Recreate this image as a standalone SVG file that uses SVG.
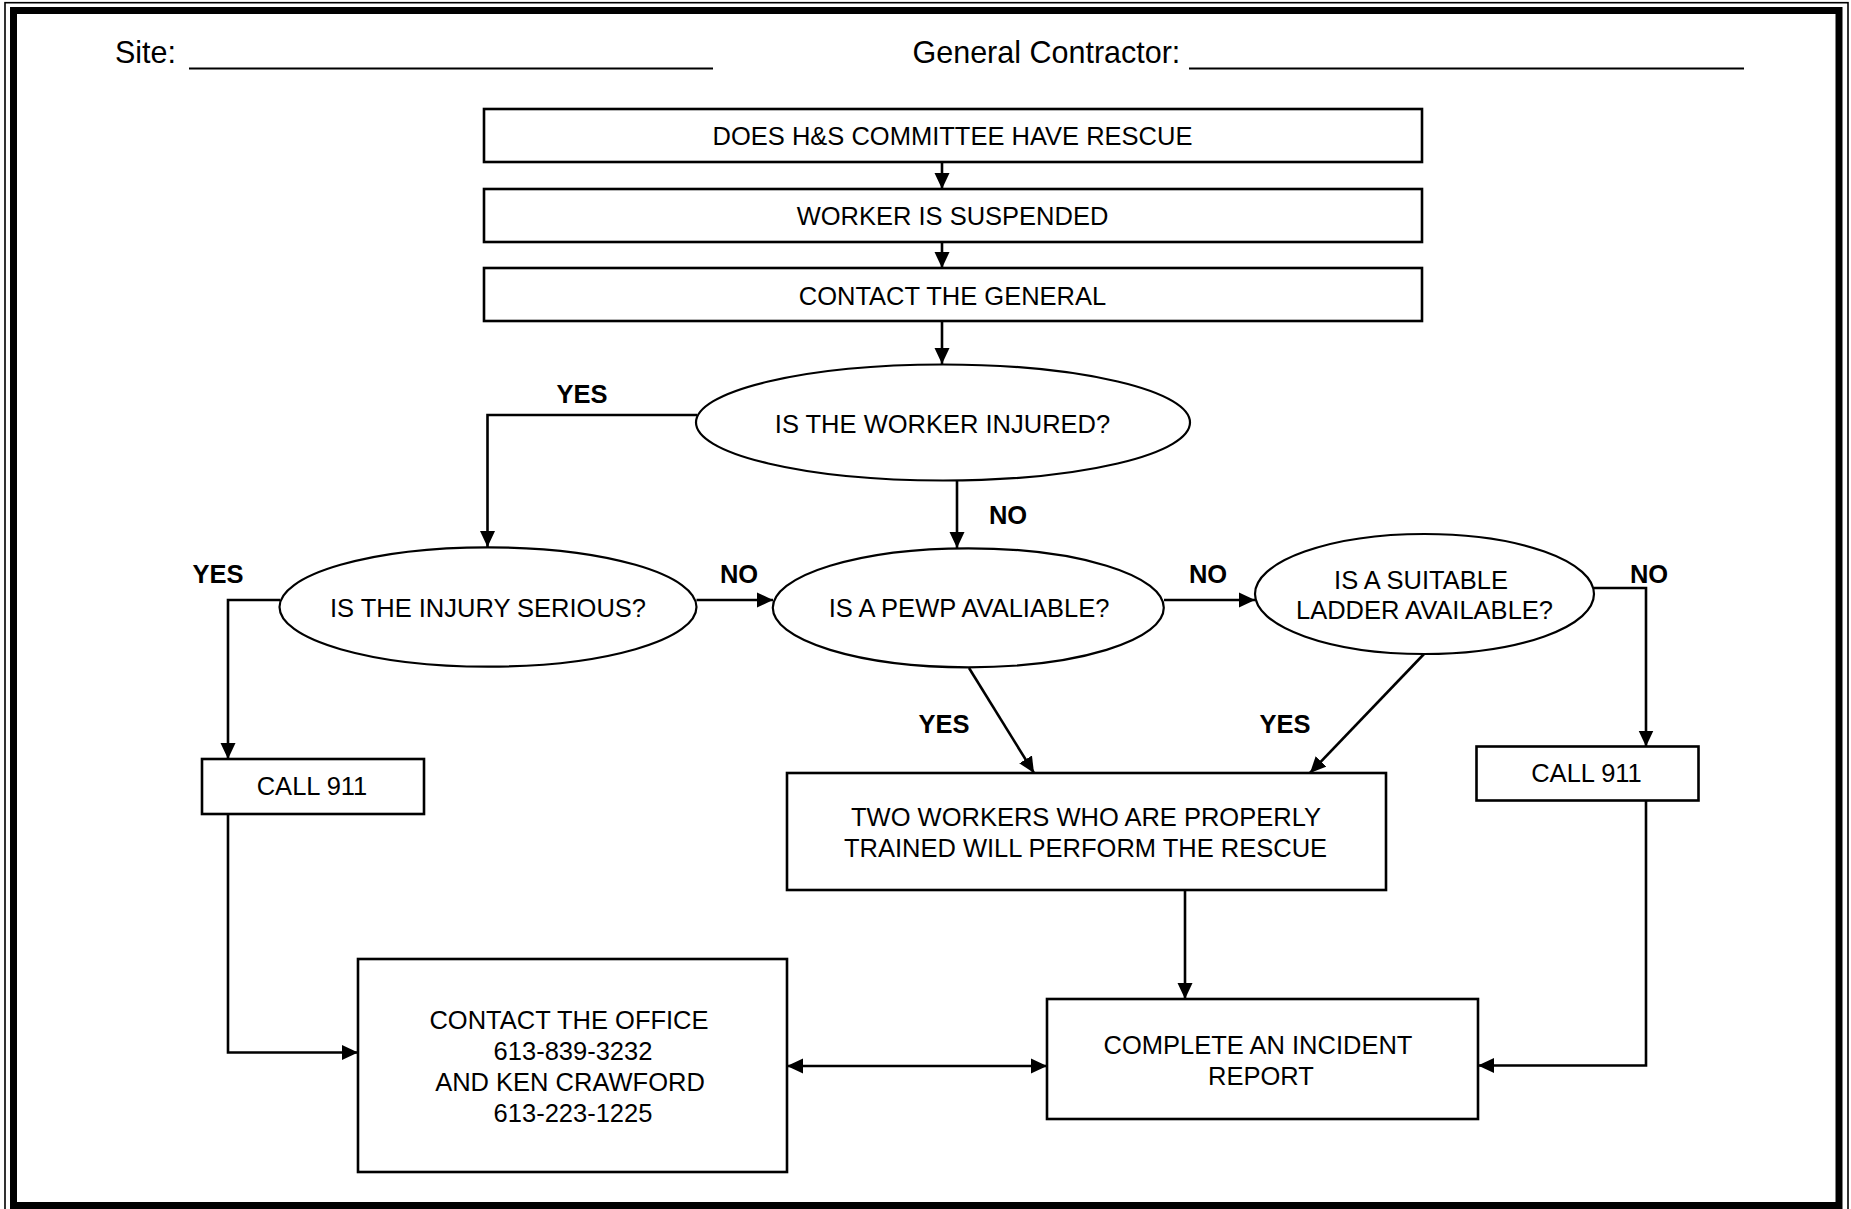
<svg xmlns="http://www.w3.org/2000/svg" width="1851" height="1209" viewBox="0 0 1851 1209">
<style>
.box{fill:#fff;stroke:#000;stroke-width:2.6}
.ell{fill:#fff;stroke:#000;stroke-width:2.2}
.t{font-family:"Liberation Sans",Arial,sans-serif;font-size:25.5px;fill:#000;text-anchor:middle}
.lbl{font-family:"Liberation Sans",Arial,sans-serif;font-size:25.5px;font-weight:bold;fill:#000;text-anchor:middle}
.hdr{font-family:"Liberation Sans",Arial,sans-serif;font-size:30.5px;fill:#000}
.c{fill:none;stroke:#000;stroke-width:2.6}
.a{marker-end:url(#ah)}
</style>
<defs>
<marker id="ah" markerUnits="userSpaceOnUse" markerWidth="17" markerHeight="16" refX="16" refY="7.5" orient="auto-start-reverse" viewBox="0 0 17 15">
<path d="M0,0 L16,7.5 L0,15 z" fill="#000"/>
</marker>
</defs>
<rect width="1851" height="1209" fill="#fff"/>
<g id="frame">
<rect x="5" y="2.7" width="1843" height="1212" fill="none" stroke="#000" stroke-width="1.6"/>
<rect x="13.5" y="10.5" width="1825.5" height="1195" fill="none" stroke="#000" stroke-width="7"/>
</g>
<g id="header">
<text class="hdr" x="115" y="62.5">Site:</text>
<line x1="189" y1="68.5" x2="713" y2="68.5" stroke="#000" stroke-width="2"/>
<text class="hdr" x="912.5" y="62.5">General Contractor:</text>
<line x1="1189" y1="68.5" x2="1744" y2="68.5" stroke="#000" stroke-width="2"/>
</g>
<g id="connectors">
<line class="c a" x1="942" y1="162" x2="942" y2="189"/>
<line class="c a" x1="942" y1="242" x2="942" y2="268"/>
<line class="c a" x1="942" y1="321" x2="942" y2="364"/>
<polyline class="c a" points="697,415 487.5,415 487.5,547"/>
<line class="c a" x1="957" y1="481" x2="957" y2="548"/>
<polyline class="c a" points="280,600 228,600 228,759"/>
<line class="c a" x1="696.5" y1="600" x2="773" y2="600"/>
<line class="c a" x1="1164" y1="600" x2="1255" y2="600"/>
<polyline class="c a" points="1594,588 1646,588 1646,746.5"/>
<line class="c a" x1="969" y1="668" x2="1034" y2="773"/>
<line class="c a" x1="1424" y1="654" x2="1310" y2="773"/>
<line class="c a" x1="1185" y1="890" x2="1185" y2="999"/>
<polyline class="c a" points="228,814 228,1052.5 358,1052.5"/>
<polyline class="c a" points="1646,800.5 1646,1065.5 1478,1065.5"/>
<line class="c a" x1="787" y1="1066" x2="1047" y2="1066" style="marker-start:url(#ah)"/>
<text class="lbl" x="582" y="403">YES</text>
<text class="lbl" x="1008" y="524">NO</text>
<text class="lbl" x="218" y="583">YES</text>
<text class="lbl" x="739" y="583">NO</text>
<text class="lbl" x="1208" y="583">NO</text>
<text class="lbl" x="1649" y="583">NO</text>
<text class="lbl" x="944" y="733">YES</text>
<text class="lbl" x="1285" y="733">YES</text>
</g>
<g id="n1"><rect class="box" x="484" y="109" width="938" height="53"/><text class="t" x="952.5" y="144.5">DOES H&amp;S COMMITTEE HAVE RESCUE</text></g>
<g id="n2"><rect class="box" x="484" y="189" width="938" height="53"/><text class="t" x="952.5" y="224.5">WORKER IS SUSPENDED</text></g>
<g id="n3"><rect class="box" x="484" y="268" width="938" height="53"/><text class="t" x="952.5" y="304.5">CONTACT THE GENERAL</text></g>
<g id="q1"><ellipse class="ell" cx="943" cy="422.5" rx="247" ry="58"/><text class="t" x="942.5" y="433">IS THE WORKER INJURED?</text></g>
<g id="q2"><ellipse class="ell" cx="488" cy="607" rx="208.5" ry="59.7"/><text class="t" x="488" y="617">IS THE INJURY SERIOUS?</text></g>
<g id="q3"><ellipse class="ell" cx="968.3" cy="607.8" rx="195.5" ry="59.5"/><text class="t" x="969" y="617">IS A PEWP AVALIABLE?</text></g>
<g id="q4"><ellipse class="ell" cx="1424.5" cy="594" rx="169.5" ry="60"/><text class="t" x="1421" y="588.5">IS A SUITABLE</text><text class="t" x="1424.5" y="619">LADDER AVAILABLE?</text></g>
<g id="call1"><rect class="box" x="202" y="759" width="222" height="55"/><text class="t" x="312" y="795">CALL 911</text></g>
<g id="call2"><rect class="box" x="1476.5" y="746.5" width="222" height="54"/><text class="t" x="1586.5" y="782">CALL 911</text></g>
<g id="rescue"><rect class="box" x="787" y="773" width="599" height="117"/><text class="t" x="1086" y="825.5">TWO WORKERS WHO ARE PROPERLY</text><text class="t" x="1085.5" y="857">TRAINED WILL PERFORM THE RESCUE</text></g>
<g id="office"><rect class="box" x="358" y="959" width="429" height="213"/><text class="t" x="569" y="1029">CONTACT THE OFFICE</text><text class="t" x="573" y="1060">613-839-3232</text><text class="t" x="570" y="1091">AND KEN CRAWFORD</text><text class="t" x="573" y="1122">613-223-1225</text></g>
<g id="report"><rect class="box" x="1047" y="999" width="431" height="120"/><text class="t" x="1258" y="1054">COMPLETE AN INCIDENT</text><text class="t" x="1261" y="1084.5">REPORT</text></g>
</svg>
